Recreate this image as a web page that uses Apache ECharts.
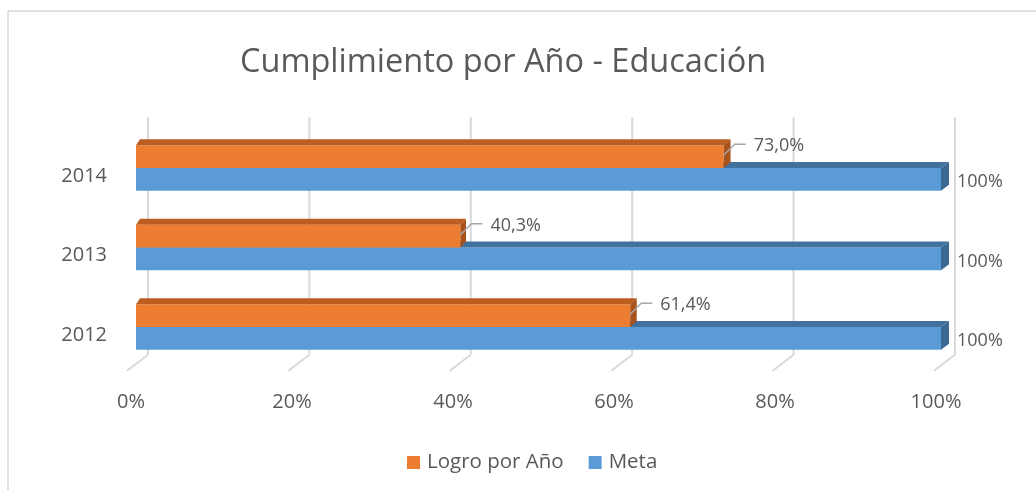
<!DOCTYPE html>
<html>
<head>
<meta charset="utf-8">
<script src="https://cdn.jsdelivr.net/npm/echarts@6/dist/echarts.min.js"></script>
<style>
  html, body { margin: 0; padding: 0; background: #fff; }
  #chart { width: 1036px; height: 490px; }
</style>
</head>
<body>
<div id="chart"></div>
<script>
// datos del grafico
var years = ['2012', '2013', '2014'];
var logro = [61.4, 40.3, 73.0];
var meta = [100, 100, 100];
var xTicks = [0, 20, 40, 60, 80, 100];

var FONT = '"Open Sans", sans-serif';
var TEXT = '#595959';
var DY = -6; // profundidad 3D

function depthX(x, cs) { // la profundidad crece un poco hacia la derecha
  return 4 + 4 * (x - cs.x) / cs.width;
}

function barRenderer(upper, front, top, side, labelKind) {
  return function (params, api) {
    var v = api.value(0), c = api.value(1);
    var cs = params.coordSys;
    var a = api.coord([0, c]), b = api.coord([v, c]);
    var h = api.size([0, 1])[1] * 0.285;
    var y0 = upper ? a[1] - h : a[1];
    var x0 = a[0], x1 = b[0];
    var d0 = depthX(x0, cs), d1 = depthX(x1, cs);
    var kids = [
      { type: 'rect', shape: { x: x0, y: y0, width: x1 - x0, height: h }, style: { fill: front } },
      { type: 'polygon', shape: { points: [[x0, y0], [x0 + d0, y0 + DY], [x1 + d1, y0 + DY], [x1, y0]] }, style: { fill: top } },
      { type: 'polygon', shape: { points: [[x1, y0], [x1 + d1, y0 + DY], [x1 + d1, y0 + h + DY], [x1, y0 + h]] }, style: { fill: side } }
    ];
    if (labelKind === 'leader') {
      kids.push({ type: 'polyline', shape: { points: [[x1, y0 + 10], [x1 + 11, y0 - 1], [x1 + 22, y0 - 1]] },
        style: { stroke: '#A6A6A6', lineWidth: 1.5, fill: null } });
      kids.push({ type: 'text', x: x1 + 30, y: y0 + 1,
        style: { text: v.toFixed(1).replace('.', ',') + '%', fill: TEXT, font: '18px ' + FONT, verticalAlign: 'middle' } });
    } else {
      kids.push({ type: 'text', x: x1 + 16, y: y0 + h / 2 + 3,
        style: { text: v + '%', fill: TEXT, font: '18px ' + FONT, verticalAlign: 'middle' } });
    }
    return { type: 'group', children: kids };
  };
}

var chart = echarts.init(document.getElementById('chart'));
var option = {
  animation: false,
  backgroundColor: '#fff',
  graphic: [{
    type: 'rect', shape: { x: 8, y: 11, width: 1200, height: 700 },
    style: { fill: null, stroke: '#D9D9D9', lineWidth: 1.5 }, silent: true
  }],
  title: {
    text: 'Cumplimiento por Año - Educación',
    left: 235, top: 41,
    textStyle: { fontFamily: FONT, fontSize: 32.5, fontWeight: 'normal', color: TEXT }
  },
  legend: {
    data: ['Logro por Año', 'Meta'],
    top: 447, left: 402,
    icon: 'rect', itemWidth: 13, itemHeight: 13, itemGap: 25,
    textStyle: { fontFamily: FONT, fontSize: 20.5, color: TEXT, padding: [0, 0, 0, 2] }
  },
  grid: { left: 136, right: 95, top: 128.25, bottom: 123.25 },
  xAxis: {
    type: 'value', min: 0, max: 100, interval: 20,
    splitLine: { show: false }, axisLine: { show: false }, axisTick: { show: false },
    axisLabel: { formatter: '{value}%', fontFamily: FONT, fontSize: 20, color: TEXT, margin: 26, padding: [0, 10, 0, 0] }
  },
  yAxis: {
    type: 'category', data: years,
    axisLine: { show: false }, axisTick: { show: false },
    axisLabel: { fontFamily: FONT, fontSize: 20, color: TEXT, margin: 29, verticalAlign: 'top', lineHeight: 16 }
  },
  series: [
    {
      type: 'custom', name: 'grid', silent: true, z: 1,
      data: xTicks.map(function (t) { return [t, 0]; }),
      encode: { x: 0, y: 1 },
      renderItem: function (params, api) {
        var t = api.value(0);
        var x = api.coord([t, 0])[0] + 12 + 2 * t / 100;
        var cs = params.coordSys;
        var yt = cs.y - 11, yb = cs.y + cs.height - 12;
        return { type: 'group', children: [
          { type: 'line', shape: { x1: x, y1: yt, x2: x, y2: yb }, style: { stroke: '#D9D9D9', lineWidth: 2 } },
          { type: 'line', shape: { x1: x, y1: yb, x2: x - 21, y2: yb + 16 }, style: { stroke: '#D9D9D9', lineWidth: 2 } }
        ] };
      }
    },
    {
      type: 'custom', name: 'Meta', z: 2,
      itemStyle: { color: '#5B9BD5' },
      data: meta.map(function (v, i) { return [v, i]; }),
      encode: { x: 0, y: 1 },
      renderItem: barRenderer(false, '#5B9BD5', '#41729F', '#3B6992', 'plain')
    },
    {
      type: 'custom', name: 'Logro por Año', z: 3,
      itemStyle: { color: '#ED7D31' },
      data: logro.map(function (v, i) { return [v, i]; }),
      encode: { x: 0, y: 1 },
      renderItem: barRenderer(true, '#ED7D31', '#BC5E22', '#A9531C', 'leader')
    }
  ]
};
chart.setOption(option);
</script>
</body>
</html>
